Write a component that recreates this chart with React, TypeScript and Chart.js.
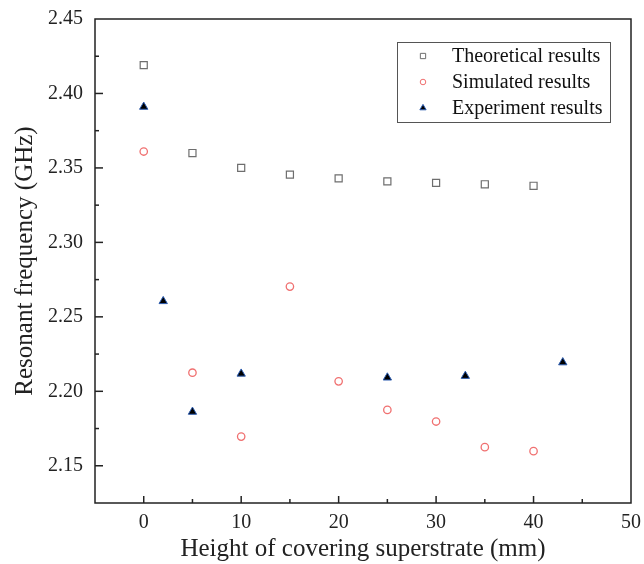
import React, { useEffect, useRef } from "react";
import { Chart, registerables } from "chart.js";

Chart.register(...registerables);

const theoX = [0, 5, 10, 15, 20, 25, 30, 35, 40];
const theoY = [2.419, 2.36, 2.35, 2.3455, 2.343, 2.341, 2.34, 2.339, 2.338];
const simX = [0, 5, 10, 15, 20, 25, 30, 35, 40];
const simY = [2.361, 2.2125, 2.1696, 2.2703, 2.2067, 2.1875, 2.1797, 2.1625, 2.1598];
const expX = [0, 2, 5, 10, 25, 33, 43];
const expY = [2.391, 2.2605, 2.1862, 2.2118, 2.2092, 2.2103, 2.2194];

const xMajor = [0, 10, 20, 30, 40, 50];
const xMinor = [5, 15, 25, 35, 45];
const yMajor = [2.15, 2.2, 2.25, 2.3, 2.35, 2.4, 2.45];
const yMinor = [2.175, 2.225, 2.275, 2.325, 2.375, 2.425];

const seriesNames = ["Theoretical results", "Simulated results", "Experiment results"];

const FONT = "'Liberation Serif', 'Times New Roman', serif";
const AXIS = "#222222";

const frameTicks = {
  id: "frameTicks",
  afterDraw(chart: any) {
    const { ctx, chartArea, scales } = chart;
    const { left, right, top, bottom } = chartArea;
    const xs = scales.x;
    const ys = scales.y;
    ctx.save();
    ctx.strokeStyle = AXIS;
    ctx.lineWidth = 1.5;
    ctx.strokeRect(left, top, right - left, bottom - top);
    const tick = (x1: number, y1: number, x2: number, y2: number) => {
      ctx.beginPath();
      ctx.moveTo(x1, y1);
      ctx.lineTo(x2, y2);
      ctx.stroke();
    };
    xMajor.forEach((v) => {
      const p = xs.getPixelForValue(v);
      if (p > left + 1 && p < right - 1) tick(p, bottom, p, bottom - 7);
    });
    xMinor.forEach((v) => {
      const p = xs.getPixelForValue(v);
      if (p > left + 1 && p < right - 1) tick(p, bottom, p, bottom - 4);
    });
    yMajor.forEach((v) => {
      const p = ys.getPixelForValue(v);
      if (p > top + 1 && p < bottom - 1) tick(left, p, left + 8, p);
    });
    yMinor.forEach((v) => {
      const p = ys.getPixelForValue(v);
      if (p > top + 1 && p < bottom - 1) tick(left, p, left + 4, p);
    });
    ctx.restore();
  },
};

function drawMarker(ctx: CanvasRenderingContext2D, style: string, x: number, y: number, r: number, fill: string, stroke: string) {
  ctx.beginPath();
  if (style === "rect") {
    const s = r * Math.SQRT1_2;
    ctx.rect(x - s, y - s, 2 * s, 2 * s);
  } else if (style === "circle") {
    ctx.arc(x, y, r, 0, Math.PI * 2);
  } else {
    for (let i = 0; i < 3; i++) {
      const a = (i * 2 * Math.PI) / 3;
      const px = x + Math.sin(a) * r;
      const py = y - Math.cos(a) * r;
      if (i === 0) ctx.moveTo(px, py);
      else ctx.lineTo(px, py);
    }
    ctx.closePath();
  }
  if (fill !== "rgba(0,0,0,0)") {
    ctx.fillStyle = fill;
    ctx.fill();
  }
  ctx.strokeStyle = stroke;
  ctx.lineWidth = 1;
  ctx.stroke();
}

const legendBox = {
  id: "legendBox",
  afterDraw(chart: any) {
    const { ctx } = chart;
    const bx = 397, by = 42, bw = 213, bh = 80;
    ctx.save();
    ctx.fillStyle = "#ffffff";
    ctx.fillRect(bx, by, bw, bh);
    ctx.strokeStyle = "#555555";
    ctx.lineWidth = 1;
    ctx.strokeRect(bx + 0.5, by + 0.5, bw, bh);
    ctx.font = `20px ${FONT}`;
    ctx.textBaseline = "middle";
    ctx.textAlign = "left";
    const rows = [56, 82, 108];
    chart.data.datasets.forEach((ds: any, i: number) => {
      drawMarker(ctx, ds.pointStyle, 423, rows[i], ds.pointRadius * 0.75, ds.pointBackgroundColor, ds.pointBorderColor);
      ctx.fillStyle = "#111111";
      ctx.fillText(ds.label, 452, rows[i] + 1);
    });
    ctx.restore();
  },
};

export default function App() {
  const ref = useRef<HTMLCanvasElement | null>(null);
  useEffect(() => {
    if (!ref.current) return;
    const chart = new Chart(ref.current, {
      type: "scatter",
      data: {
        datasets: [
          {
            label: seriesNames[0],
            data: theoX.map((x, i) => ({ x, y: theoY[i] })),
            pointStyle: "rect",
            pointRadius: 5,
            pointBackgroundColor: "rgba(0,0,0,0)",
            pointBorderColor: "#6e6e6e",
            pointBorderWidth: 1.2,
            showLine: false,
          },
          {
            label: seriesNames[1],
            data: simX.map((x, i) => ({ x, y: simY[i] })),
            pointStyle: "circle",
            pointRadius: 3.7,
            pointBackgroundColor: "rgba(0,0,0,0)",
            pointBorderColor: "#f07070",
            pointBorderWidth: 1.3,
            showLine: false,
          },
          {
            label: seriesNames[2],
            data: expX.map((x, i) => ({ x, y: expY[i] })),
            pointStyle: "triangle",
            pointRadius: 4.8,
            pointBackgroundColor: "#000000",
            pointBorderColor: "#2a5bb0",
            pointBorderWidth: 1,
            showLine: false,
          },
        ] as any,
      },
      options: {
        animation: false,
        responsive: false,
        devicePixelRatio: 1,
        layout: { padding: { top: 19, right: 13, left: 0, bottom: 0 } },
        plugins: {
          legend: { display: false },
          tooltip: { enabled: false },
        },
        scales: {
          x: {
            type: "linear",
            min: -5,
            max: 50,
            afterBuildTicks: (s: any) => {
              s.ticks = xMajor.map((v) => ({ value: v }));
            },
            afterFit: (s: any) => {
              s.height = 61;
              s.paddingLeft = 0;
              s.paddingRight = 0;
            },
            grid: { display: false, drawTicks: false },
            border: { display: false },
            ticks: {
              font: { family: FONT, size: 20 },
              color: AXIS,
              padding: 8,
              maxRotation: 0,
              autoSkip: false,
              callback: (v: any) => String(v),
            },
            title: {
              display: true,
              text: "Height of covering superstrate (mm)",
              font: { family: FONT, size: 25 },
              color: AXIS,
              padding: { top: 0, bottom: 0 },
            },
          },
          y: {
            type: "linear",
            min: 2.125,
            max: 2.45,
            afterBuildTicks: (s: any) => {
              s.ticks = yMajor.map((v) => ({ value: v }));
            },
            afterFit: (s: any) => {
              s.width = 95;
              s.paddingTop = 0;
              s.paddingBottom = 0;
            },
            grid: { display: false, drawTicks: false },
            border: { display: false },
            ticks: {
              font: { family: FONT, size: 20 },
              color: AXIS,
              padding: 12,
              autoSkip: false,
              callback: (v: any) => Number(v).toFixed(2),
            },
            title: {
              display: true,
              text: "Resonant frequency (GHz)",
              font: { family: FONT, size: 25 },
              color: AXIS,
              padding: { top: 10, bottom: 0 },
            },
          },
        },
      },
      plugins: [frameTicks, legendBox],
    });
    return () => chart.destroy();
  }, []);
  return (
    <div style={{ position: "absolute", left: 0, top: 0, width: 644, height: 564, background: "#fff" }}>
      <canvas ref={ref} width={644} height={564} />
    </div>
  );
}
